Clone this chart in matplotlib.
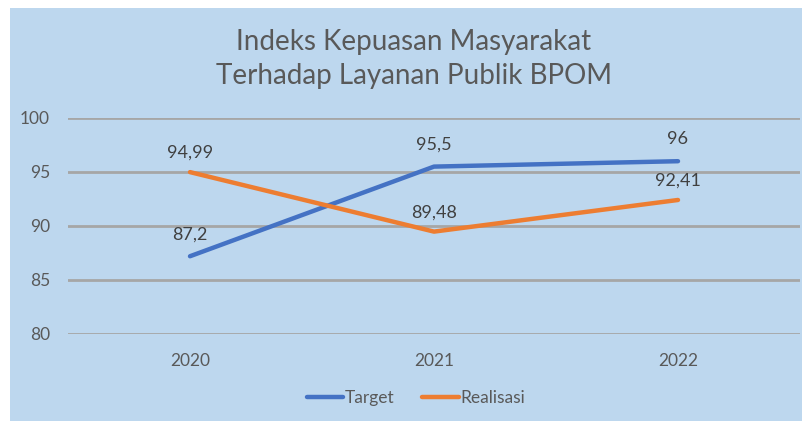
import matplotlib
matplotlib.use("Agg")
import matplotlib.pyplot as plt

years = ["2020", "2021", "2022"]
target = [87.2, 95.5, 96]
realisasi = [94.99, 89.48, 92.41]
target_labels = ["87,2", "95,5", "96"]
realisasi_labels = ["94,99", "89,48", "92,41"]
yticks = [80, 85, 90, 95, 100]

plt.rcParams['font.family'] = ['Lato', 'DejaVu Sans']
W, H = 803, 421
fig = plt.figure(figsize=(W / 100, H / 100), dpi=100)
fig.patch.set_facecolor('white')
bg = '#BDD7EE'
bgax = fig.add_axes([10 / W, 0, 1 - 10 / W, 1 - 8 / H], zorder=-5)
bgax.set_facecolor(bg)
bgax.set_xticks([])
bgax.set_yticks([])
for s in bgax.spines.values():
    s.set_visible(False)

ax = fig.add_axes([68 / W, 1 - 334 / H, (800 - 68) / W, (334 - 118) / H], zorder=1)
ax.set_facecolor('none')
x = list(range(len(years)))
ax.set_xlim(-0.5, len(years) - 0.5)
ax.set_ylim(80, 100)
ax.set_yticks(yticks)
ax.set_yticklabels([str(v) for v in yticks])
ax.set_xticks(x)
ax.set_xticklabels(years)
for v in yticks:
    ax.axhline(v, color='#A6A6A6', lw=2, zorder=1)
for s in ax.spines.values():
    s.set_visible(False)
ax.tick_params(length=0, colors='#595959', labelsize=12.5)
ax.tick_params(axis='y', pad=13)
ax.tick_params(axis='x', pad=14)

ax.plot(x, target, color='#4472C4', lw=3.2, solid_capstyle='round', label='Target', zorder=3)
ax.plot(x, realisasi, color='#ED7D31', lw=3.2, solid_capstyle='round', label='Realisasi', zorder=3)

for xi, v, t in zip(x, target, target_labels):
    ax.annotate(t, (xi, v), xytext=(0, 10), textcoords='offset points', ha='center', va='bottom',
                fontsize=13, color='#404040')
for xi, v, t in zip(x, realisasi, realisasi_labels):
    ax.annotate(t, (xi, v), xytext=(0, 8), textcoords='offset points', ha='center', va='bottom',
                fontsize=13, color='#404040')

fig.text(414 / W, 1 - 42 / H, "Indeks Kepuasan Masyarakat", ha='center', va='center',
         fontsize=20, color='#595959')
fig.text(414 / W, 1 - 76 / H, "Terhadap Layanan Publik BPOM", ha='center', va='center',
         fontsize=20, color='#595959')

leg = fig.legend(loc='center', bbox_to_anchor=(416 / W, 1 - 398 / H), ncol=2, frameon=False,
                 fontsize=12.5, labelcolor='#595959', handlelength=2.1, handletextpad=0.1,
                 columnspacing=1.6)

fig.savefig('out.png', dpi=100, facecolor='white')
